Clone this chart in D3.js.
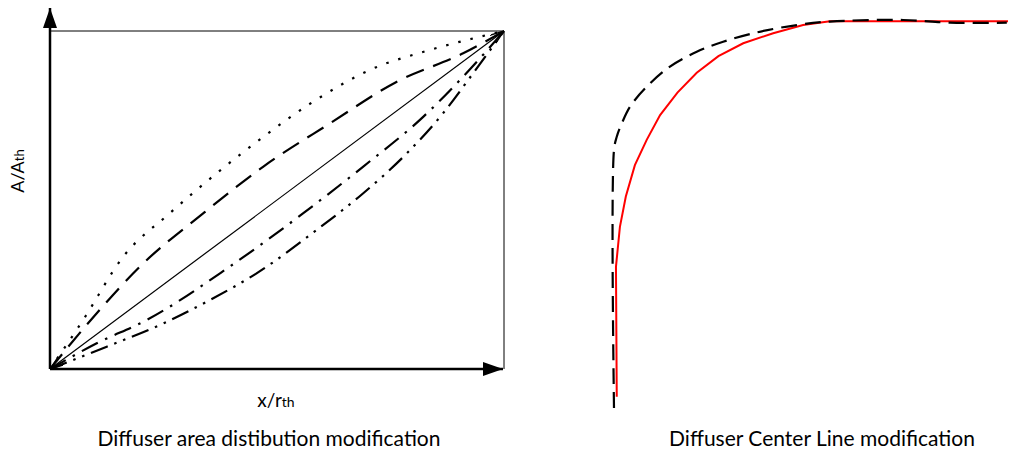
<!DOCTYPE html>
<html>
<head>
<meta charset="utf-8">
<script src="https://cdn.jsdelivr.net/npm/d3@7"></script>
<style>
  body { margin: 0; background: #fff; }
  svg { display: block; font-family: Lato, "Open Sans", sans-serif; }
</style>
</head>
<body>
<div id="chart"></div>
<script>
// Left panel: area distribution A/Ath vs x/rth (normalised 0..1)
var dottedCurve = [[0,0],[0.073,0.145],[0.161,0.332],[0.264,0.461],[0.367,0.579],[0.470,0.687],[0.580,0.791],[0.705,0.885],[0.837,0.944],[0.947,0.983],[1,1]];
var dashedCurve = [[0,0],[0.103,0.165],[0.198,0.303],[0.338,0.461],[0.470,0.599],[0.617,0.727],[0.764,0.850],[0.910,0.934],[1,1]];
var linearLine = [[0,0],[1,1]];
var dashDotCurve = [[0,0],[0.103,0.076],[0.213,0.145],[0.396,0.303],[0.558,0.461],[0.690,0.599],[0.822,0.746],[0.910,0.865],[1,1]];
var dashDotDotCurve = [[0,0],[0.125,0.066],[0.250,0.135],[0.352,0.204],[0.455,0.283],[0.587,0.411],[0.690,0.520],[0.786,0.638],[0.866,0.757],[0.932,0.875],[1,1]];

// Right panel: center line, original (dashed) and modified (red)
var baseCenterLine = [[0,0],[0,0.665],[0.007,0.699],[0.020,0.734],[0.041,0.777],[0.083,0.828],[0.142,0.880],[0.210,0.918],[0.277,0.944],[0.362,0.968],[0.464,0.987],[0.548,0.996],[0.734,1.0],[0.853,0.993],[0.997,0.993]];
var modCenterLine = [[0.007,0.029],[0.005,0.364],[0.015,0.467],[0.030,0.545],[0.053,0.626],[0.083,0.691],[0.117,0.755],[0.161,0.813],[0.210,0.864],[0.265,0.907],[0.328,0.940],[0.404,0.966],[0.480,0.987],[0.548,0.997],[1.0,0.997]];

var captions = ["Diffuser area distibution modification", "Diffuser Center Line modification"];

var W = 1011, H = 451;
var svg = d3.select("#chart").append("svg").attr("width", W).attr("height", H);

var defs = svg.append("defs");
defs.append("marker")
  .attr("id", "solidHead").attr("viewBox", "0 0 20 14")
  .attr("refX", 20).attr("refY", 7)
  .attr("markerWidth", 20).attr("markerHeight", 14)
  .attr("markerUnits", "userSpaceOnUse").attr("orient", "auto")
  .append("path").attr("d", "M0,0L20,7L0,14Z").attr("fill", "#000");
defs.append("marker")
  .attr("id", "openHead").attr("viewBox", "0 0 14 10")
  .attr("refX", 14).attr("refY", 5)
  .attr("markerWidth", 14).attr("markerHeight", 10)
  .attr("markerUnits", "userSpaceOnUse").attr("orient", "auto-start-reverse")
  .append("path").attr("d", "M0,0L14,5L0,10").attr("fill", "none").attr("stroke", "#000").attr("stroke-width", 1.3);

// ---- left panel ----
var x = d3.scaleLinear().domain([0, 1]).range([50, 504]),
  y = d3.scaleLinear().domain([0, 1]).range([369, 31]);

var g = svg.append("g");

// frame (top and right)
g.append("path")
  .attr("d", "M" + x(0) + "," + y(1) + "H" + x(1) + "V" + y(0))
  .attr("fill", "none").attr("stroke", "#000").attr("stroke-width", 1);

// axes with arrows
g.append("line")
  .attr("x1", x(0)).attr("y1", y(0)).attr("x2", x(0)).attr("y2", 8)
  .attr("stroke", "#000").attr("stroke-width", 2.5)
  .attr("marker-end", "url(#solidHead)");
g.append("line")
  .attr("x1", x(0)).attr("y1", y(0)).attr("x2", 503).attr("y2", y(0))
  .attr("stroke", "#000").attr("stroke-width", 2.5)
  .attr("marker-end", "url(#solidHead)");

var line = d3.line().x(d => x(d[0])).y(d => y(d[1])).curve(d3.curveMonotoneX);

var series = [
  {data: dottedCurve, dash: "2.5,10", width: 2.2},
  {data: dashedCurve, dash: "19,10", width: 2.2},
  {data: dashDotCurve, dash: "18,8,2.5,8", width: 2.2},
  {data: dashDotDotCurve, dash: "18,7,2.5,7,2.5,7", width: 2.2}
];
series.forEach(function(s) {
  g.append("path")
    .datum(s.data)
    .attr("fill", "none")
    .attr("stroke", "#000")
    .attr("stroke-width", s.width)
    .attr("stroke-dasharray", s.dash)
    .attr("d", line);
});
g.append("path")
  .datum(linearLine)
  .attr("fill", "none").attr("stroke", "#000").attr("stroke-width", 1.2)
  .attr("marker-start", "url(#openHead)").attr("marker-end", "url(#openHead)")
  .attr("d", d3.line().x(d => x(d[0])).y(d => y(d[1])));

// axis labels
var yl = g.append("text")
  .attr("transform", "translate(24,171) rotate(-90)")
  .attr("text-anchor", "middle").attr("font-size", 18).attr("fill", "#000");
yl.append("tspan").text("A/A");
yl.append("tspan").attr("font-size", 13).text("th");

var xl = g.append("text")
  .attr("x", 276).attr("y", 407)
  .attr("text-anchor", "middle").attr("font-size", 19).attr("fill", "#000");
xl.append("tspan").text("x/r");
xl.append("tspan").attr("font-size", 14).text("th");

// ---- right panel ----
var x2 = d3.scaleLinear().domain([0, 1]).range([614, 1008]),
  y2 = d3.scaleLinear().domain([0, 1]).range([408, 20]);
var line2 = d3.line().x(d => x2(d[0])).y(d => y2(d[1]));

svg.append("path")
  .datum(modCenterLine)
  .attr("fill", "none").attr("stroke", "#ff0000").attr("stroke-width", 2)
  .attr("d", line2);
svg.append("path")
  .datum(baseCenterLine)
  .attr("fill", "none").attr("stroke", "#000").attr("stroke-width", 2.2)
  .attr("stroke-dasharray", "16,8")
  .attr("d", line2.curve(d3.curveCatmullRom));

// captions
svg.selectAll("text.caption")
  .data(captions).enter().append("text")
  .attr("class", "caption")
  .attr("x", (d, i) => i ? 822 : 269)
  .attr("y", 446)
  .attr("text-anchor", "middle")
  .attr("font-size", 21)
  .attr("fill", "#000")
  .text(d => d);
</script>
</body>
</html>
